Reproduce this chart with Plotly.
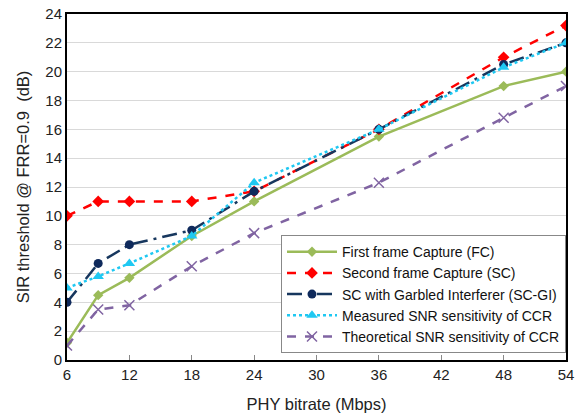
import plotly.graph_objects as go

x_vals = [6, 9, 12, 18, 24, 36, 48, 54]
fc = [1.2, 4.5, 5.7, 8.6, 11.0, 15.5, 19.0, 20.0]
sc = [10.0, 11.0, 11.0, 11.0, 11.7, 16.0, 21.0, 23.2]
scgi = [4.0, 6.7, 8.0, 9.0, 11.7, 16.0, 20.5, 22.0]
meas = [5.0, 5.8, 6.7, 8.6, 12.3, 16.0, 20.3, 22.0]
theo = [1.0, 3.5, 3.8, 6.5, 8.8, 12.3, 16.8, 19.0]
x_ticks = [6, 12, 18, 24, 30, 36, 42, 48, 54]
y_ticks = list(range(0, 25, 2))

fig = go.Figure()
fig.add_trace(go.Scatter(x=x_vals, y=fc, name="First frame Capture (FC)", mode="lines+markers",
                         line=dict(color="#9BBB59", width=2.5),
                         marker=dict(symbol="diamond", size=8, color="#9BBB59")))
fig.add_trace(go.Scatter(x=x_vals, y=sc, name="Second frame Capture (SC)", mode="lines+markers",
                         line=dict(color="#FF0000", width=2.5, dash="dash"),
                         marker=dict(symbol="diamond", size=9, color="#FF0000")))
fig.add_trace(go.Scatter(x=x_vals, y=scgi, name="SC with Garbled Interferer (SC-GI)", mode="lines+markers",
                         line=dict(color="#17375E", width=2.5, dash="longdashdot"),
                         marker=dict(symbol="circle", size=9, color="#0F2A5C")))
fig.add_trace(go.Scatter(x=x_vals, y=meas, name="Measured SNR sensitivity of CCR", mode="lines+markers",
                         line=dict(color="#1FC8F2", width=2.5, dash="dot"),
                         marker=dict(symbol="triangle-up", size=10, color="#1FC8F2")))
fig.add_trace(go.Scatter(x=x_vals, y=theo, name="Theoretical SNR sensitivity of CCR", mode="lines+markers",
                         line=dict(color="#8064A2", width=2.5, dash="dash"),
                         marker=dict(symbol="x-thin", size=10, color="#8064A2",
                                     line=dict(color="#8064A2", width=1.5))))

fig.update_layout(
    width=575, height=417,
    margin=dict(l=67, r=9, t=14, b=57, autoexpand=False),
    paper_bgcolor="white", plot_bgcolor="white",
    font=dict(family="Liberation Sans, Arial, sans-serif", size=15, color="#222"),
    legend=dict(x=1.0, y=0.02, xanchor="right", yanchor="bottom",
                bgcolor="white", bordercolor="#888", borderwidth=1,
                font=dict(size=14, color="#111"), tracegroupgap=0, itemwidth=50),
    showlegend=True,
)
fig.update_xaxes(range=[6, 54], tickvals=x_ticks, showgrid=False, showline=True,
                 linecolor="black", linewidth=2, mirror=True, ticks="inside", ticklen=5,
                 tickcolor="#888", title=dict(text="PHY bitrate (Mbps)", font=dict(size=16.5), standoff=16),
                 zeroline=False, automargin=False)
fig.update_yaxes(range=[0, 24], tickvals=y_ticks, showgrid=True, gridcolor="#D9D9D9", gridwidth=1,
                 showline=True, linecolor="black", linewidth=2, mirror=True,
                 title=dict(text="SIR threshold @ FRR=0.9  (dB)", font=dict(size=16.5), standoff=12),
                 zeroline=False, ticks="", automargin=False)

fig.write_html("out.html")
